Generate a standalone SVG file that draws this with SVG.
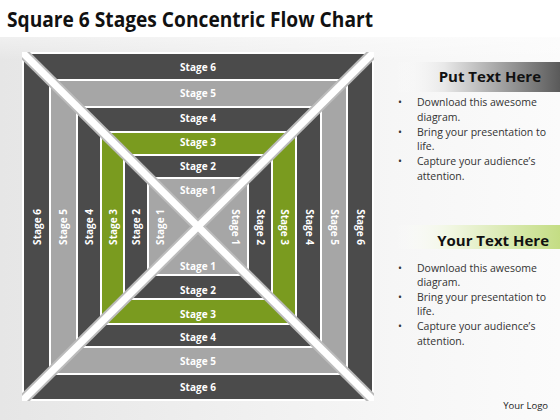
<svg xmlns="http://www.w3.org/2000/svg" width="560" height="420" viewBox="0 0 560 420">
<defs>
<linearGradient id="bg" x1="0" y1="0" x2="1" y2="0">
<stop offset="0" stop-color="#e6e6e6"/>
<stop offset="0.7" stop-color="#f6f6f6"/>
<stop offset="1" stop-color="#fbfbfb"/>
</linearGradient>
<linearGradient id="bgTop" x1="0" y1="0" x2="0" y2="1">
<stop offset="0" stop-color="#ffffff" stop-opacity="1"/>
<stop offset="1" stop-color="#ffffff" stop-opacity="0"/>
</linearGradient>
<linearGradient id="barGray" x1="0" y1="0" x2="1" y2="0">
<stop offset="0" stop-color="#ffffff" stop-opacity="0"/>
<stop offset="0.3" stop-color="#e8e8e8"/>
<stop offset="1" stop-color="#5a5a5a"/>
</linearGradient>
<linearGradient id="barGreen" x1="0" y1="0" x2="1" y2="0">
<stop offset="0" stop-color="#ffffff" stop-opacity="0"/>
<stop offset="0.35" stop-color="#f0f6e0"/>
<stop offset="1" stop-color="#c4dd84"/>
</linearGradient>
<clipPath id="sq"><rect x="22" y="52" width="352" height="349"/></clipPath>
</defs>
<style>
.dark{fill:#4b4b4b;stroke:#ffffff;stroke-width:2}
.light{fill:#a6a6a6;stroke:#ffffff;stroke-width:2}
.green{fill:#7a9b1f;stroke:#ffffff;stroke-width:2}
.lbl{font-family:"Open Sans","DejaVu Sans",sans-serif;font-size:10px;font-weight:700;fill:#ffffff;text-anchor:middle;dominant-baseline:central}
.title{font-family:"Open Sans","Liberation Sans",sans-serif;font-size:21px;font-weight:700;fill:#111111}
.head{font-family:"Open Sans","Liberation Sans",sans-serif;font-size:15px;font-weight:700;fill:#111111;text-anchor:end}
.body{font-family:"Open Sans","Liberation Sans",sans-serif;font-size:10.5px;fill:#333333}
.logo{font-family:"Open Sans","Liberation Sans",sans-serif;font-size:9.5px;fill:#222222;text-anchor:end}
.diagEdge{stroke:#bcbcbc;stroke-width:11;fill:none}
.diagCore{stroke:#ffffff;stroke-width:7;fill:none}
</style>
<rect x="0" y="0" width="560" height="420" fill="url(#bg)"/>
<rect x="0" y="0" width="560" height="60" fill="url(#bgTop)"/>
<rect x="0" y="0" width="560" height="37" fill="#ffffff"/>
<text class="title" x="7" y="27" textLength="366" lengthAdjust="spacingAndGlyphs">Square 6 Stages Concentric Flow Chart</text>

<g id="stage6"><rect class="dark" x="23" y="53" width="350" height="347"/></g>
<g id="stage5"><rect class="light" x="50" y="80" width="297" height="294"/></g>
<g id="stage4"><rect class="dark" x="77" y="107" width="244" height="240"/></g>
<g id="stage3"><rect class="green" x="101" y="132" width="195" height="192"/></g>
<g id="stage2"><rect class="dark" x="124" y="155" width="148" height="144"/></g>
<g id="stage1"><rect class="light" x="148" y="178" width="100" height="97"/></g>

<g id="connectors" clip-path="url(#sq)">
<line class="diagEdge" x1="20" y1="50" x2="376" y2="403"/>
<line class="diagEdge" x1="376" y1="50" x2="20" y2="403"/>
<line class="diagCore" x1="20" y1="50" x2="376" y2="403"/>
<line class="diagCore" x1="376" y1="50" x2="20" y2="403"/>
</g>

<g id="labels-top">
<text class="lbl" x="198" y="66.5">Stage 6</text>
<text class="lbl" x="198" y="92.5">Stage 5</text>
<text class="lbl" x="198" y="118">Stage 4</text>
<text class="lbl" x="198" y="142">Stage 3</text>
<text class="lbl" x="198" y="166">Stage 2</text>
<text class="lbl" x="198" y="190">Stage 1</text>
</g>
<g id="labels-bottom">
<text class="lbl" x="198" y="266">Stage 1</text>
<text class="lbl" x="198" y="290">Stage 2</text>
<text class="lbl" x="198" y="313.5">Stage 3</text>
<text class="lbl" x="198" y="337">Stage 4</text>
<text class="lbl" x="198" y="361">Stage 5</text>
<text class="lbl" x="198" y="387">Stage 6</text>
</g>
<g id="labels-left">
<text class="lbl" transform="translate(36.5,227) rotate(-90)">Stage 6</text>
<text class="lbl" transform="translate(63,227) rotate(-90)">Stage 5</text>
<text class="lbl" transform="translate(89,227) rotate(-90)">Stage 4</text>
<text class="lbl" transform="translate(112.5,227) rotate(-90)">Stage 3</text>
<text class="lbl" transform="translate(136,227) rotate(-90)">Stage 2</text>
<text class="lbl" transform="translate(160,227) rotate(-90)">Stage 1</text>
</g>
<g id="labels-right">
<text class="lbl" transform="translate(236,227) rotate(90)">Stage 1</text>
<text class="lbl" transform="translate(261,227) rotate(90)">Stage 2</text>
<text class="lbl" transform="translate(285,227) rotate(90)">Stage 3</text>
<text class="lbl" transform="translate(309.5,227) rotate(90)">Stage 4</text>
<text class="lbl" transform="translate(335,227) rotate(90)">Stage 5</text>
<text class="lbl" transform="translate(360.5,227) rotate(90)">Stage 6</text>
</g>

<g id="panel1">
<rect x="395" y="62" width="165" height="30" fill="url(#barGray)"/>
<text class="head" x="541" y="82">Put Text Here</text>
<text class="body" x="398" y="106">•</text>
<text class="body" x="417" y="106">Download this awesome</text>
<text class="body" x="417" y="121">diagram.</text>
<text class="body" x="398" y="136">•</text>
<text class="body" x="417" y="136">Bring your presentation  to</text>
<text class="body" x="417" y="150">life.</text>
<text class="body" x="398" y="165">•</text>
<text class="body" x="417" y="165">Capture your audience’s</text>
<text class="body" x="417" y="180">attention.</text>
</g>
<g id="panel2">
<rect x="395" y="225" width="165" height="24" fill="url(#barGreen)"/>
<text class="head" x="549" y="246">Your Text Here</text>
<text class="body" x="398" y="272">•</text>
<text class="body" x="417" y="272">Download this awesome</text>
<text class="body" x="417" y="286">diagram.</text>
<text class="body" x="398" y="301">•</text>
<text class="body" x="417" y="301">Bring your presentation  to</text>
<text class="body" x="417" y="315">life.</text>
<text class="body" x="398" y="330">•</text>
<text class="body" x="417" y="330">Capture your audience’s</text>
<text class="body" x="417" y="345">attention.</text>
</g>
<text class="logo" x="548" y="409">Your Logo</text>
</svg>
